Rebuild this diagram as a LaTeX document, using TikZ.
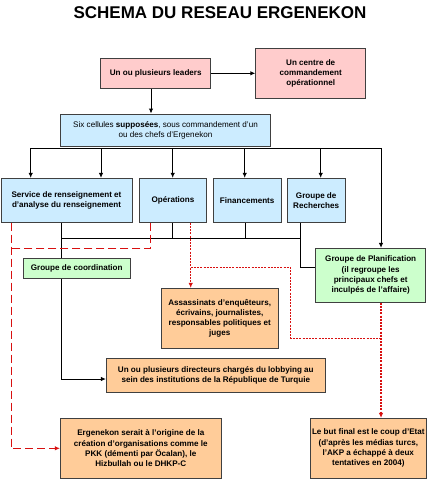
\documentclass[tikz,border=0pt]{standalone}
\usepackage{fontspec}
\setmainfont{Liberation Sans}
\usetikzlibrary{arrows.meta,backgrounds}
\definecolor{pinkfill}{HTML}{FFCCCC}
\definecolor{bluefill}{HTML}{CCECFF}
\definecolor{greenfill}{HTML}{CCFFCC}
\definecolor{orangefill}{HTML}{FFCC99}
\definecolor{linered}{HTML}{D81010}
\tikzset{
  box/.style={draw=black!75, line width=0.8pt, align=center, inner sep=1pt,
    font=\fontsize{8.1}{10.3}\selectfont\bfseries},
  pinkbox/.style={box, fill=pinkfill},
  bluebox/.style={box, fill=bluefill},
  greenbox/.style={box, fill=greenfill},
  orangebox/.style={box, fill=orangefill},
  conn/.style={line width=1pt, black},
  arr/.style={conn, -{Latex[length=5pt,width=4.5pt]}},
  reddash/.style={line width=1pt, linered, dash pattern=on 8pt off 4pt},
  reddot/.style={line width=1.1pt, linered, dash pattern=on 2pt off 1.2pt},
  redtip/.style={-{Latex[length=5pt,width=4.5pt]}},
}
\begin{document}
\begin{tikzpicture}[x=1pt,y=-1pt]
\useasboundingbox (0,0) rectangle (441,479);

\node[anchor=base, font=\fontsize{17}{20}\selectfont\bfseries] (title) at (220,18) {SCHEMA DU RESEAU ERGENEKON};

\node[pinkbox, minimum width=110pt, minimum height=30pt] (leaders) at (155.7,73.3) {Un ou plusieurs leaders};
\node[pinkbox, minimum width=110pt, minimum height=50pt] (centre) at (310.7,73.3) {Un centre de\\commandement\\opérationnel};
\node[bluebox, minimum width=210.4pt, minimum height=32.7pt, font=\fontsize{8.1}{10.3}\selectfont] (six) at (165.5,130.3) {Six cellules \textbf{supposées}, sous commandement d'un\\ou des chefs d'Ergenekon};

\node[bluebox, minimum width=131pt, minimum height=44pt] (service) at (66.5,200.3) {Service de renseignement et\\d'analyse du renseignement};
\node[bluebox, minimum width=67.4pt, minimum height=44pt] (operations) at (173,200.3) {Opérations};
\node[bluebox, minimum width=67.7pt, minimum height=44pt] (financements) at (247.2,200.3) {Financements};
\node[bluebox, minimum width=57.7pt, minimum height=44pt] (recherches) at (316.2,200.3) {Groupe de\\Recherches};

\node[greenbox, minimum width=110pt, minimum height=54pt] (planif) at (370.7,275.3) {Groupe de Planification\\(il regroupe les\\principaux chefs et\\inculpés de l'affaire)};
\node[greenbox, minimum width=107.3pt, minimum height=20.3pt] (coord) at (76.7,268.2) {Groupe de coordination};

\node[orangebox, minimum width=117.3pt, minimum height=60pt] (assas) at (219.7,318.3) {Assassinats d'enquêteurs,\\écrivains, journalistes,\\responsables politiques et\\juges};
\node[orangebox, minimum width=219pt, minimum height=34.7pt] (lobby) at (215.8,375.3) {Un ou plusieurs directeurs chargés du lobbying au\\sein des institutions de la République de Turquie};
\node[orangebox, minimum width=161pt, minimum height=60pt] (ergo) at (140.8,448.3) {Ergenekon serait à l'origine de la\\création d'organisations comme le\\PKK (démenti par Öcalan), le\\Hizbullah ou le DHKP-C};
\node[orangebox, minimum width=116.7pt, minimum height=60pt] (but) at (368.3,448.3) {Le but final est le coup d'Etat\\(d'après les médias turcs,\\l'AKP a échappé à deux\\tentatives en 2004)};

% helper coordinates
\coordinate (lx) at (151,0);
\coordinate (bus) at (0,148.3);
\coordinate (c1) at (30.7,0);
\coordinate (c2) at (101,0);
\coordinate (c3) at (172.7,0);
\coordinate (c4) at (244.7,0);
\coordinate (c5) at (320.7,0);
\coordinate (c6) at (381,0);
\coordinate (bus2) at (0,238.3);
\coordinate (d1) at (61,0);
\coordinate (d2) at (172.7,0);
\coordinate (d3) at (245.3,0);
\coordinate (d4) at (300.7,0);
\coordinate (q1) at (0,267.7);
\coordinate (q2) at (0,338.3);
\coordinate (yl) at (0,379);
\coordinate (r1) at (11,0);
\coordinate (r2) at (150.7,0);
\coordinate (rd) at (0,248.3);
\coordinate (p1) at (190.7,0);
\coordinate (p2) at (290.7,0);

\begin{scope}[on background layer]
\fill[white] (0,0) rectangle (441,479);
\draw[arr] (leaders.east) -- (centre.west |- leaders.east);
\draw[arr] (lx |- leaders.south) -- (lx |- six.north);
\draw[conn] (c1 |- bus) -- (c6 |- bus);
\draw[arr] (c1 |- bus) -- (c1 |- service.north);
\draw[arr] (c2 |- bus) -- (c2 |- service.north);
\draw[arr] (c3 |- bus) -- (c3 |- operations.north);
\draw[arr] (c4 |- bus) -- (c4 |- financements.north);
\draw[arr] (c5 |- bus) -- (c5 |- recherches.north);
\draw[arr] (c6 |- bus) -- (c6 |- planif.north);

\draw[conn] (d1 |- bus2) -- (d4 |- bus2);
\draw[conn] (d2 |- operations.south) -- (d2 |- bus2);
\draw[conn] (d3 |- financements.south) -- (d3 |- bus2);
\draw[conn] (d4 |- recherches.south) -- (d4 |- q1) -- (planif.west |- q1);
\draw[arr] (d1 |- service.south) -- (d1 |- yl) -- (lobby.west |- yl);

\draw[reddash, redtip] (r1 |- service.south) -- (r1 |- ergo.west) -- (ergo.west);
\draw[reddash] (r2 |- operations.south) -- (r2 |- rd) -- (r1 |- rd);

\draw[reddot, redtip] (p1 |- operations.south) -- (p1 |- assas.north);
\draw[reddot] (p1 |- q1) -- (p2 |- q1) -- (p2 |- q2) -- (c6 |- q2);
\draw[reddot, redtip] (c6 |- planif.south) -- (c6 |- but.north);
\end{scope}
\end{tikzpicture}
\end{document}
